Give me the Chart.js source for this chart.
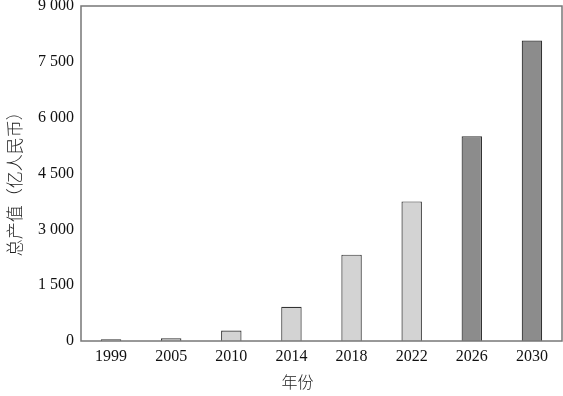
<!DOCTYPE html>
<html>
<head>
<meta charset="utf-8">
<script src="https://cdn.jsdelivr.net/npm/chart.js@4"></script>
<style>
  html, body { margin: 0; padding: 0; background: #fff; }
  #wrap { width: 563px; height: 396px; }
</style>
</head>
<body>
<div id="wrap"><canvas id="myChart"></canvas></div>
<script>
const years = ["1999","2005","2010","2014","2018","2022","2026","2030"];
const output = [45, 75, 280, 920, 2320, 3750, 5500, 8070];
const barColors = ["#d3d3d3","#d3d3d3","#d3d3d3","#d3d3d3","#d3d3d3","#d3d3d3","#8c8c8c","#8c8c8c"];
const yTickLabels = ["0","1 500","3 000","4 500","6 000","7 500","9 000"];

const serif = "'Liberation Serif', 'Times New Roman', serif";

// frame round the plot area
const frame = {
  id: "frame",
  afterDraw(chart) {
    const a = chart.chartArea, ctx = chart.ctx;
    ctx.save();
    ctx.strokeStyle = "#777";
    ctx.lineWidth = 1.5;
    ctx.strokeRect(a.left, a.top, a.right - a.left, a.bottom - a.top);
    ctx.restore();
  }
};

new Chart("myChart", {
  type: "bar",
  data: {
    labels: years,
    datasets: [{
      data: output,
      backgroundColor: barColors,
      borderColor: "#333",
      borderWidth: 1.2,
      barPercentage: 0.34,
      categoryPercentage: 1
    }]
  },
  options: {
    responsive: true,
    maintainAspectRatio: false,
    animation: false,
    layout: { padding: { top: 6, right: 1 } },
    plugins: { legend: { display: false }, tooltip: { enabled: false } },
    scales: {
      x: {
        grid: { display: false, drawTicks: false },
        border: { display: false },
        ticks: { color: "#111", padding: 6, font: { family: serif, size: 16 } },
        title: {
          display: true, text: "年份\u3000\u3000\u3000", color: "#222",
          font: { family: "'Noto Sans CJK SC'", size: 16, weight: 300 },
          padding: { top: 6 }
        },
        afterFit(s) { s.height = 55; }
      },
      y: {
        min: 0, max: 9000,
        grid: { display: false, drawTicks: false },
        border: { display: false },
        ticks: {
          stepSize: 1500, padding: 7, color: "#111",
          font: { family: serif, size: 16 },
          callback: (v, i) => yTickLabels[i]
        },
        title: {
          display: true, text: "总产值（亿人民币）\u3000 ", color: "#222",
          font: { family: "'Noto Sans CJK SC'", size: 17, weight: 300 },
          padding: { bottom: 2 }
        },
        afterFit(s) { s.width = 81; s.paddingTop = 0; }
      }
    }
  },
  plugins: [frame]
});
</script>
</body>
</html>
